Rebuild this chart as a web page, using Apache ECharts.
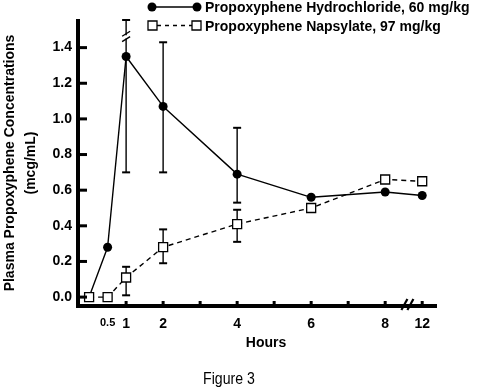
<!DOCTYPE html>
<html>
<head>
<meta charset="utf-8">
<script src="https://cdn.jsdelivr.net/npm/echarts@6/dist/echarts.min.js"></script>
<style>
  html, body { margin: 0; padding: 0; background: #fff; }
  #chart { width: 480px; height: 391px; }
</style>
</head>
<body>
<div id="chart"></div>
<script>
// ---- data ----
const hours = [0, 0.5, 1, 2, 4, 6, 8, 12];
const hydrochloride = [0, 0.28, 1.35, 1.07, 0.69, 0.56, 0.59, 0.57];
const napsylate = [0, 0, 0.11, 0.28, 0.41, 0.50, 0.66, 0.65];

const hydroErrHours = [1, 2, 4];
const hydroErrLow = [0.70, 0.70, 0.53];
const hydroErrHigh = [1.555, 1.43, 0.95];

const napErrHours = [1, 2, 4];
const napErrLow = [0.01, 0.19, 0.31];
const napErrHigh = [0.17, 0.38, 0.49];

// broken error bar at 1 h (hydrochloride): gap between these values
const hydroBreakLow = 1.445;
const hydroBreakHigh = 1.475;

const xLabelHours = [0.5, 1, 2, 4, 6, 8, 12];
const xTickHours = [1, 2, 3, 4, 5, 6, 7, 8, 12];
const yTickValues = [0, 0.2, 0.4, 0.6, 0.8, 1.0, 1.2, 1.4];

const seriesNames = ['Propoxyphene Hydrochloride, 60 mg/kg', 'Propoxyphene Napsylate, 97 mg/kg'];

// axis ranges; the axis lines sit at the minimum of each range
const X_MIN = -0.3, X_MAX = 9.4, Y_MIN = -0.05, Y_MAX = 1.555;
// x axis is broken between 8 and 12 h: 12 h sits one unit after 8 h
const X_BREAK = 8.6;
function pos(h) { return h > 8 ? 9 + (h - 12) : h; }

const FONT = 'Liberation Sans, Arial, Helvetica, sans-serif';

const hydroData = hours.map((h, i) => i === 0
  ? { value: [pos(h), hydrochloride[i]], symbol: 'none' }
  : [pos(h), hydrochloride[i]]);
const napData = hours.map((h, i) => [pos(h), napsylate[i]]);

const errData = [];
hydroErrHours.forEach((h, i) => {
  const brk = h === 1;
  errData.push([pos(h), hydroErrLow[i], hydroErrHigh[i], brk ? hydroBreakLow : '-', brk ? hydroBreakHigh : '-']);
});
napErrHours.forEach((h, i) => errData.push([pos(h), napErrLow[i], napErrHigh[i], '-', '-']));

function ls(w) { return { stroke: '#000', lineWidth: w }; }

function renderErr(params, api) {
  const x = api.value(0), lo = api.value(1), hi = api.value(2);
  const bLo = api.value(3), bHi = api.value(4);
  const pLo = api.coord([x, lo]);
  const pHi = api.coord([x, hi]);
  const cap = 4;
  const children = [];
  if (!isNaN(bLo) && !isNaN(bHi)) {
    const pbLo = api.coord([x, bLo]);
    const pbHi = api.coord([x, bHi]);
    children.push({ type: 'line', shape: { x1: pLo[0], y1: pLo[1], x2: pbLo[0], y2: pbLo[1] - 1 }, style: ls(1.4) });
    children.push({ type: 'line', shape: { x1: pbHi[0], y1: pbHi[1] + 1, x2: pHi[0], y2: pHi[1] }, style: ls(1.4) });
    children.push({ type: 'line', shape: { x1: pbLo[0] - 4, y1: pbLo[1] + 2, x2: pbLo[0] + 4, y2: pbLo[1] - 3 }, style: ls(1.4) });
    children.push({ type: 'line', shape: { x1: pbHi[0] - 4, y1: pbHi[1] + 2, x2: pbHi[0] + 4, y2: pbHi[1] - 3 }, style: ls(1.4) });
  } else {
    children.push({ type: 'line', shape: { x1: pLo[0], y1: pLo[1], x2: pHi[0], y2: pHi[1] }, style: ls(1.4) });
  }
  children.push({ type: 'line', shape: { x1: pLo[0] - cap, y1: pLo[1], x2: pLo[0] + cap, y2: pLo[1] }, style: ls(2) });
  children.push({ type: 'line', shape: { x1: pHi[0] - cap, y1: pHi[1], x2: pHi[0] + cap, y2: pHi[1] }, style: ls(2) });
  return { type: 'group', children: children };
}

const chart = echarts.init(document.getElementById('chart'), null, { renderer: 'canvas' });
chart.setOption({
  animation: false,
  backgroundColor: '#fff',
  textStyle: { fontFamily: FONT },
  grid: { left: 78, right: 43, top: 20, bottom: 85, containLabel: false, outerBoundsMode: 'none' },
  xAxis: {
    type: 'value',
    min: X_MIN,
    max: X_MAX,
    splitLine: { show: false },
    axisLine: { show: false },
    axisTick: { show: false },
    axisLabel: {
      show: true, margin: 11,
      customValues: xLabelHours.map(pos),
      color: '#000', fontFamily: FONT, fontWeight: 'bold', fontSize: 14,
      formatter: function (v) {
        const h = v > 8 ? 12 : v;
        return h === 0.5 ? '{s|0.5}' : String(h);
      },
      rich: { s: { fontSize: 11, fontWeight: 'bold', fontFamily: FONT, color: '#000' } }
    },
    name: 'Hours',
    nameLocation: 'middle',
    nameGap: 29,
    nameTextStyle: { color: '#000', fontFamily: FONT, fontWeight: 'bold', fontSize: 14, padding: [0, 0, 0, 17] }
  },
  yAxis: {
    type: 'value',
    min: Y_MIN,
    max: Y_MAX,
    splitLine: { show: false },
    axisLine: { show: false },
    axisTick: { show: false },
    axisLabel: {
      show: true, margin: 6,
      customValues: yTickValues,
      color: '#000', fontFamily: FONT, fontWeight: 'bold', fontSize: 14,
      formatter: function (v) { return v.toFixed(1); }
    },
    name: 'Plasma Propoxyphene Concentrations\n(mcg/mL)',
    nameLocation: 'middle',
    nameGap: 31,
    nameTextStyle: { color: '#000', fontFamily: FONT, fontWeight: 'bold', fontSize: 14, lineHeight: 21 }
  },
  series: [
    {
      type: 'custom',
      name: 'errors',
      renderItem: renderErr,
      data: errData,
      z: 1,
      clip: false,
      silent: true
    },
    {
      type: 'line',
      name: seriesNames[0],
      data: hydroData,
      symbol: 'circle',
      symbolSize: 9,
      lineStyle: { color: '#000', width: 1.4 },
      itemStyle: { color: '#000' },
      z: 3
    },
    {
      type: 'line',
      name: seriesNames[1],
      data: napData,
      symbol: 'rect',
      symbolSize: 9,
      lineStyle: { color: '#000', width: 1.4, type: [5, 4] },
      itemStyle: { color: '#fff', borderColor: '#000', borderWidth: 1.3 },
      z: 4
    }
  ]
});

// ---- axis frame, ticks and x-axis break, placed through the chart's own scales ----
function px(x, y) { return chart.convertToPixel({ gridIndex: 0 }, [x, y]); }
const o = px(X_MIN, Y_MIN);
const xe = px(X_MAX, Y_MIN);
const ye = px(X_MIN, Y_MAX);
const Z = 100;
const graphics = [
  { type: 'rect', z: Z, silent: true, shape: { x: o[0] - 2, y: o[1] - 2, width: xe[0] - o[0] + 2, height: 4 }, style: { fill: '#000' } },
  { type: 'rect', z: Z, silent: true, shape: { x: o[0] - 2, y: ye[1] - 1, width: 4, height: o[1] - ye[1] + 3 }, style: { fill: '#000' } }
];
yTickValues.forEach(v => {
  const p = px(X_MIN, v);
  graphics.push({ type: 'rect', z: Z, silent: true, shape: { x: p[0], y: p[1] - 1.5, width: 9, height: 3 }, style: { fill: '#000' } });
});
xTickHours.forEach(h => {
  const p = px(pos(h), Y_MIN);
  graphics.push({ type: 'rect', z: Z, silent: true, shape: { x: p[0] - 1.5, y: p[1] - 5, width: 3, height: 4 }, style: { fill: '#000' } });
});
const b = px(X_BREAK, Y_MIN);
graphics.push({ type: 'line', z: Z, silent: true, shape: { x1: b[0] - 6, y1: b[1] + 4, x2: b[0], y2: b[1] - 7 }, style: ls(2.2) });
graphics.push({ type: 'line', z: Z, silent: true, shape: { x1: b[0], y1: b[1] + 4, x2: b[0] + 6, y2: b[1] - 7 }, style: ls(2.2) });

// legend (drawn by hand to copy the markers at both ends) and caption
graphics.push(
  { type: 'line', shape: { x1: 152, y1: 7, x2: 197, y2: 7 }, style: { stroke: '#000', lineWidth: 1.4 } },
  { type: 'circle', shape: { cx: 152, cy: 7, r: 4.5 }, style: { fill: '#000' } },
  { type: 'circle', shape: { cx: 197, cy: 7, r: 4.5 }, style: { fill: '#000' } },
  { type: 'text', x: 205, y: 8, style: { text: seriesNames[0], fill: '#000', font: 'bold 14px ' + FONT, verticalAlign: 'middle' } },
  { type: 'line', shape: { x1: 157, y1: 25.5, x2: 192, y2: 25.5 }, style: { stroke: '#000', lineWidth: 1.4, lineDash: [4, 4] } },
  { type: 'rect', shape: { x: 148, y: 21, width: 9, height: 9 }, style: { fill: '#fff', stroke: '#000', lineWidth: 1.3 } },
  { type: 'rect', shape: { x: 192, y: 21, width: 9, height: 9 }, style: { fill: '#fff', stroke: '#000', lineWidth: 1.3 } },
  { type: 'text', x: 205, y: 27, style: { text: seriesNames[1], fill: '#000', font: 'bold 14px ' + FONT, verticalAlign: 'middle' } },
  { type: 'text', x: 229, y: 379, scaleX: 0.83, style: { text: 'Figure 3', fill: '#000', font: '17px ' + FONT, align: 'center', verticalAlign: 'middle' } }
);
chart.setOption({ graphic: graphics });
</script>
</body>
</html>
